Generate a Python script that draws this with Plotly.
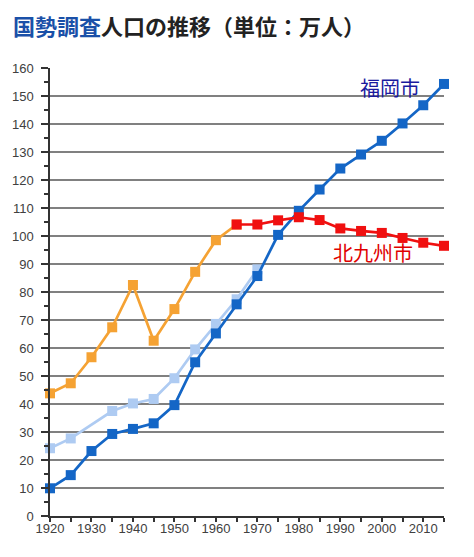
import plotly.graph_objects as go

# 国勢調査 population, unit: 10,000 people
years_fukuoka = [1920, 1925, 1930, 1935, 1940, 1945, 1950, 1955, 1960, 1965,
                 1970, 1975, 1980, 1985, 1990, 1995, 2000, 2005, 2010, 2015]
fukuoka = [9.9, 14.6, 23.2, 29.3, 31.1, 33.1, 39.6, 54.9, 65.2, 75.6,
           85.7, 100.4, 109.0, 116.6, 124.1, 129.1, 134.0, 140.2, 146.7, 154.3]

# area of present-day Fukuoka city (light blue)
years_fukuoka_area = [1920, 1925, 1935, 1940, 1945, 1950, 1955, 1960, 1965, 1970]
fukuoka_area = [24.2, 27.7, 37.5, 40.2, 41.8, 49.2, 59.5, 68.6, 77.4, 88.1]

# five cities before Kitakyushu merger (orange)
years_five = [1920, 1925, 1930, 1935, 1940, 1945, 1950, 1955, 1960, 1965]
five_cities = [43.8, 47.4, 56.7, 67.4, 82.5, 62.6, 73.9, 87.2, 98.5, 104.1]

years_kitakyushu = [1965, 1970, 1975, 1980, 1985, 1990, 1995, 2000, 2005, 2010, 2015]
kitakyushu = [104.1, 104.1, 105.6, 106.7, 105.7, 102.7, 101.8, 101.1, 99.3, 97.6, 96.5]

x_ticks = list(range(1920, 2011, 10))

fig = go.Figure()


def add_line(x, y, color):
    fig.add_scatter(x=x, y=y, mode="lines+markers", cliponaxis=False,
                    line=dict(color=color, width=2.7),
                    marker=dict(symbol="square", size=10, color=color),
                    showlegend=False, hoverinfo="x+y")


add_line(years_five, five_cities, "#F5A233")
add_line(years_fukuoka_area, fukuoka_area, "#AECBF2")
add_line(years_fukuoka, fukuoka, "#1466C6")
add_line(years_kitakyushu, kitakyushu, "#F01010")

fig.add_annotation(x=2002, y=153, text="福岡市", showarrow=False,
                   font=dict(family="Noto Sans CJK JP", size=20, color="#1A1A9E"))
fig.add_annotation(x=1998, y=94, text="北九州市", showarrow=False,
                   font=dict(family="Noto Sans CJK JP", size=20, color="#E00000"))

fig.add_annotation(
    xref="paper", yref="paper", x=-0.1, y=1.096, xanchor="left", yanchor="middle",
    text="<b><span style='color:#1A50A8'>国勢調査</span>人口の推移（単位：万人）</b>",
    showarrow=False, font=dict(family="Noto Sans CJK JP", size=22, color="#222222"))

fig.update_xaxes(range=[1920, 2015], tickvals=x_ticks, showgrid=False,
                 showline=True, linecolor="#333333", linewidth=1.5,
                 ticks="outside", ticklen=4, tickcolor="#333333", tickwidth=1.5,
                 minor=dict(dtick=5, ticks="outside", ticklen=4, tickcolor="#333333",
                            tickwidth=1.5, showgrid=False),
                 tickfont=dict(family="Liberation Sans", size=13, color="#404040"),
                 ticklabelstandoff=-4, automargin=False, zeroline=False)
fig.update_yaxes(range=[0, 160], dtick=10, showgrid=True, gridcolor="#808080",
                 gridwidth=1.5, showline=True, linecolor="#333333", linewidth=1.5,
                 ticks="outside", ticklen=7, tickcolor="#333333", tickwidth=1.5,
                 minor=dict(dtick=5, ticks="outside", ticklen=4, tickcolor="#333333",
                            tickwidth=1.5, showgrid=False),
                 tickfont=dict(family="Liberation Sans", size=13, color="#404040"),
                 ticklabelstandoff=5, automargin=False, zeroline=False)

# page body adds 8px margin, so the figure is drawn 8px smaller and shifted
fig.update_layout(width=466, height=549, margin=dict(l=42, r=30, t=60, b=41),
                  plot_bgcolor="white", paper_bgcolor="white")

fig.write_html("out.html")
